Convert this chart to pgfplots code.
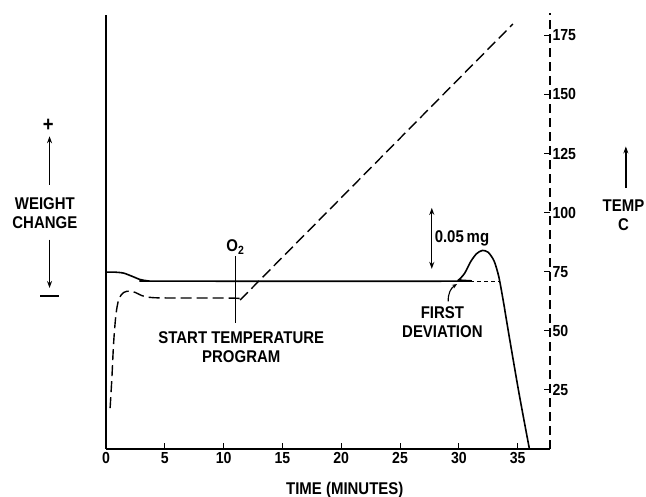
\documentclass[border=0pt]{standalone}
\usepackage{fontspec}
\setmainfont{Liberation Sans}[FakeStretch=0.88]
\usepackage{pgfplots}
\pgfplotsset{compat=1.18}
\usetikzlibrary{arrows.meta}
\begin{document}
\begin{tikzpicture}[font=\fontsize{17}{19}\selectfont\bfseries]
\begin{axis}[
  at={(0,0)}, anchor=south west,
  width=444pt, height=434pt, scale only axis,
  xmin=0, xmax=37.75, ymin=0, ymax=183.6,
  axis line style={draw=none},
  clip=false,
  xtick={0,5,...,35}, xtick pos=left, xticklabel pos=left,
  ytick={25,50,...,175}, ytick pos=right, yticklabel pos=right,
  tick align=inside, major tick length=6pt,
  tick style={black, line width=1pt},
  /pgf/number format/assume math mode=true,
  ticklabel style={font=\fontsize{16}{18}\selectfont\bfseries},
  yticklabel style={xshift=-1pt},
]
% weight change (solid)
\addplot[black, line width=1.6pt, smooth, tension=0.45] coordinates {
(0,74.8) (0.8,74.8) (1.5,74.4) (2.2,73.1) (2.9,71.7) (3.6,71.1) (4.5,71.0)
(29.6,71.0) (30.0,71.6) (30.5,74.4) (31.0,79.2) (31.5,82.6) (32.0,84.0) (32.5,83.2)
(33.0,79.5) (33.4,72.8) (33.8,62) (34.2,50) (35.1,24) (36.0,0)};
% extrapolated baseline
\addplot[black, line width=0.9pt, dash pattern=on 4pt off 3pt] coordinates {(29.8,71.0) (33.45,71.0)};
% temperature (dashed)
\addplot[black, line width=1.4pt, dash pattern=on 11pt off 5pt, smooth, tension=0.5] coordinates {
(0.35,17.3) (0.5,30) (0.65,45) (0.85,57) (1.1,63.5) (1.5,66.2) (2.0,66.8) (2.5,66.2)
(3.0,65) (3.6,64.2) (5,63.9) (11.0,63.8) (11.4,63.0)};
\addplot[black, line width=1.4pt, dash pattern=on 11pt off 5pt] coordinates {(11.4,63.0) (34.6,179.8)};

% axis lines
\draw[line width=1.4pt] (axis cs:0,0) -- (axis cs:37.75,0);
\draw[line width=1.4pt] (axis cs:0,0) -- (axis cs:0,183.6);
\draw[line width=1.3pt, dash pattern=on 9pt off 5pt] (axis cs:37.75,0) -- (axis cs:37.75,184.5);

% O2 marker
\draw[line width=1.4pt] (axis cs:11,53.4) -- (axis cs:11,81.5);
\node[anchor=south, inner sep=1pt] at (axis cs:11,81.8) {O\textsubscript{2}};
\node[align=center] at (axis cs:11.5,43) {START TEMPERATURE\\PROGRAM};

% first deviation
\node[align=center] at (axis cs:28.6,53.8) {FIRST\\DEVIATION};
\draw[line width=1.1pt, -{Stealth[length=5pt,width=4pt]}] (axis cs:29.1,62.5) to[bend left=30] (axis cs:29.85,69.8);

% 0.05 mg scale
\draw[line width=1.4pt, {Stealth[length=7pt,width=5pt]}-{Stealth[length=7pt,width=5pt]}] (axis cs:27.7,76.2) -- (axis cs:27.7,102);
\node[anchor=west, inner sep=1pt] at (axis cs:27.85,88.9) {0.05\,mg};

% left label
\node at (axis cs:-4.9,136.8) {\fontsize{21}{22}\selectfont +};
\draw[line width=1.5pt, -{Stealth[length=7pt,width=5pt]}] (axis cs:-4.8,111.8) -- (axis cs:-4.8,132.3);
\node[align=center] at (axis cs:-5.2,99.8) {WEIGHT\\CHANGE};
\draw[line width=1.5pt, -{Stealth[length=7pt,width=5pt]}] (axis cs:-4.8,88.6) -- (axis cs:-4.8,68.1);
\draw[line width=1.6pt] (axis cs:-5.6,64.6) -- (axis cs:-4.0,64.6);

% right label
\draw[line width=1.5pt, -{Stealth[length=7pt,width=5pt]}] (axis cs:44.2,110.4) -- (axis cs:44.2,128);
\node[align=center] at (axis cs:44.0,99) {TEMP\\C};

% x label
\node at (axis cs:20.3,0) [yshift=-41pt] {TIME (MINUTES)};
\end{axis}
\pgfresetboundingbox
\path[use as bounding box] (-106pt,-48pt) rectangle (540pt,449pt);
\end{tikzpicture}
\end{document}
